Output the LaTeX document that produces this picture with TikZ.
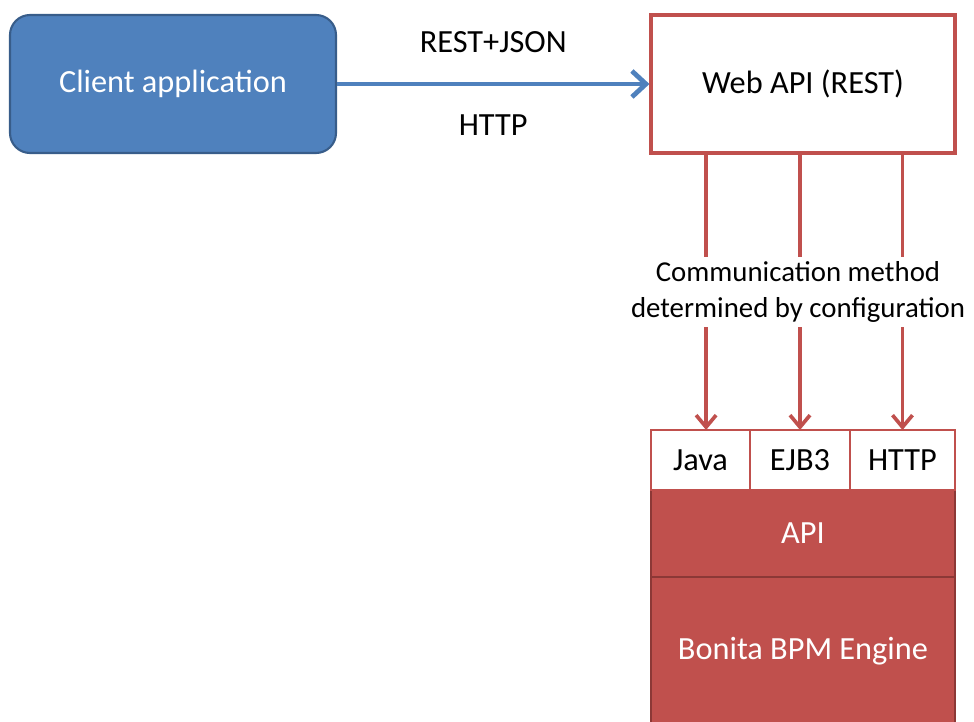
\documentclass[tikz,border=0pt]{standalone}
\usepackage{fontspec}
\setmainfont{Carlito}
\usepackage{xcolor}
\usetikzlibrary{positioning,calc,arrows.meta}

\definecolor{appblue}{HTML}{4F81BD}
\definecolor{appblueline}{HTML}{385D8A}
\definecolor{bonred}{HTML}{C0504D}
\definecolor{bonredline}{HTML}{8C3836}

\begin{document}
\begin{tikzpicture}[node distance=0pt,
  every node/.style={font=\fontsize{23}{28}\selectfont},
  client/.style={rectangle,rounded corners=0.5cm,fill=appblue,draw=appblueline,line width=1.5pt,
    text=white,minimum width=8.15cm,minimum height=3.45cm},
  webbox/.style={rectangle,draw=bonred,line width=2.2pt,fill=white,minimum width=7.6cm,minimum height=3.45cm},
  proto/.style={rectangle,draw=bonred,line width=2pt,fill=white,minimum height=1.5cm,inner sep=0pt,outer sep=0pt},
  layer/.style={rectangle,draw=bonredline,line width=1.5pt,fill=bonred,text=white,minimum width=7.6cm,
    inner sep=0pt,outer sep=0pt},
  wire/.style={draw=bonred,line width=2.6pt,-{Straight Barb[length=0.3cm,width=0.5cm]}}]
  \useasboundingbox (0,0) rectangle (24.35,-18.05);
  \node[client] (C) at (4.325,-2.1) {Client application};
  \node[webbox] (W) at (20.075,-2.1) {Web API (REST)};
  \node[layer,minimum height=3.7cm] (E) at (20.075,-16.275) {Bonita BPM Engine};
  \node[layer,minimum height=2.175cm] (A) [above=of E] {API};
  \node[proto,minimum width=2.475cm] (J) [above right=of A.north west] {Java};
  \node[proto,minimum width=2.5cm] (EJB) [right=of J] {EJB3};
  \node[proto,minimum width=2.625cm] (H) [right=of EJB] {HTTP};
  \path[draw=appblue,line width=3.4pt,-{Straight Barb[length=0.35cm,width=0.65cm]}]
   (C) -- node[midway,above=0.6cm] {REST+JSON} node[midway,below=0.6cm] {HTTP} (W);
  \draw[wire] (W.south -| J.north) ++(0.14,0) -- ($(J.north)+(0.14,0)$);
  \draw[wire] (W.south -| EJB.north) -- (EJB.north);
  \draw[wire] (W.south -| H.north) -- (H.north);
  \node[fill=white,align=center,inner sep=3pt,font=\fontsize{20.5}{25.5}\selectfont] (M) at (19.95,-7.3)
   {Communication method\\determined by configuration};
\end{tikzpicture}
\end{document}
